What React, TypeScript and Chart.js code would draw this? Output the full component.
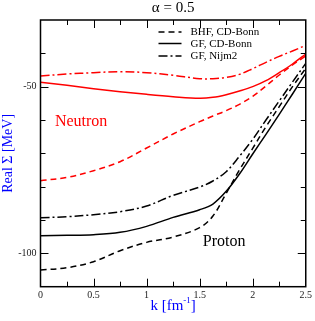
import { useEffect, useRef } from "react";
import { Chart, registerables } from "chart.js";

Chart.register(...registerables);

const K = [0, 0.25, 0.5, 0.75, 1.0, 1.25, 1.5, 1.625, 1.75, 1.875, 2.0, 2.125, 2.25, 2.375, 2.5];

const neutronBHF = [-78.2, -77.2, -75.2, -72.5, -68.4, -64.2, -60.5, -58.8, -57.2, -55.3, -52.9, -49.8, -46.5, -43.5, -40.8];
const neutronGFCDBonn = [-48.7, -49.6, -50.6, -51.5, -52.3, -53.0, -53.5, -53.2, -52.4, -51.3, -50.0, -48.2, -45.8, -43.2, -40.2];
const neutronGFNijm2 = [-46.8, -46.2, -45.8, -45.5, -45.8, -46.6, -47.6, -47.6, -47.2, -46.3, -44.6, -42.7, -40.9, -39.3, -37.6];

const protonBHF = [-105, -104.3, -102.5, -99.2, -96.7, -95.1, -92.3, -88.8, -82, -75, -68.5, -62, -56, -50, -44.5];
const protonGFCDBonn = [-94.7, -94.6, -94.4, -93.7, -91.9, -89.2, -86.9, -85.2, -81.4, -76.2, -70.2, -64.3, -58.3, -52.2, -46];
const protonGFNijm2 = [-89.3, -89, -88.4, -87.5, -85.8, -82.6, -80.1, -78.3, -75.5, -70.9, -65.8, -60, -54.3, -48.6, -43];

const legendLabels = ["BHF, CD-Bonn", "GF, CD-Bonn", "GF, Nijm2"];
const xTickValues = [0, 0.5, 1, 1.5, 2, 2.5];
const xTickLabels = ["0", "0.5", "1", "1.5", "2", "2.5"];
const yTickValues = [-50, -100];
const yTickLabels = ["-50", "-100"];

const DASHED = [6, 4];
const SOLID: number[] = [];
const DASHDOT = [9, 3, 2, 3];
const SERIF = "'Liberation Serif', 'DejaVu Serif', serif";

export default function App() {
  const ref = useRef<HTMLCanvasElement>(null);

  useEffect(() => {
    const canvas = ref.current!;
    const mk = (label: string, vals: number[], color: string, dash: number[]) => ({
      label,
      data: K.map((k, i) => ({ x: k, y: vals[i] })),
      borderColor: color,
      backgroundColor: color,
      borderWidth: 1.5,
      borderDash: dash,
      pointRadius: 0,
      fill: false,
      tension: 0.35,
    });

    const framePlugin = {
      id: "frame",
      afterDraw(chart: any) {
        const ctx = chart.ctx as CanvasRenderingContext2D;
        const a = chart.chartArea;
        const xs = chart.scales.x;
        const ys = chart.scales.y;
        ctx.save();
        ctx.setLineDash([]);
        ctx.strokeStyle = "#000";
        ctx.lineWidth = 1.5;
        ctx.strokeRect(a.left, a.top, a.right - a.left, a.bottom - a.top);
        ctx.lineWidth = 1;
        for (let i = 1; i < 10; i++) {
          const v = i * 0.25;
          const px = Math.round(xs.getPixelForValue(v)) + 0.5;
          const len = i % 2 === 0 ? 8 : 5;
          ctx.beginPath();
          ctx.moveTo(px, a.bottom);
          ctx.lineTo(px, a.bottom - len);
          ctx.moveTo(px, a.top);
          ctx.lineTo(px, a.top + len);
          ctx.stroke();
        }
        for (let v = -100; v <= -40; v += 10) {
          const py = Math.round(ys.getPixelForValue(v)) + 0.5;
          const len = v % 50 === 0 ? 8 : 5;
          ctx.beginPath();
          ctx.moveTo(a.left, py);
          ctx.lineTo(a.left + len, py);
          ctx.moveTo(a.right, py);
          ctx.lineTo(a.right - len, py);
          ctx.stroke();
        }

        const cx = (a.left + a.right) / 2;
        const cy = (a.top + a.bottom) / 2;

        ctx.fillStyle = "#000";
        ctx.font = `15px ${SERIF}`;
        ctx.textAlign = "center";
        ctx.textBaseline = "alphabetic";
        ctx.fillText("\u03b1 = 0.5", cx, 12);

        const styles = [DASHED, SOLID, DASHDOT];
        const rows = [a.top + 12, a.top + 23.5, a.top + 36];
        ctx.font = `11px ${SERIF}`;
        ctx.textAlign = "left";
        ctx.textBaseline = "middle";
        for (let i = 0; i < 3; i++) {
          ctx.beginPath();
          ctx.setLineDash(styles[i]);
          ctx.lineWidth = 1.5;
          ctx.moveTo(a.left + 118, rows[i]);
          ctx.lineTo(a.left + 141, rows[i]);
          ctx.stroke();
          ctx.setLineDash([]);
          ctx.fillText(legendLabels[i], a.left + 150, rows[i] + 0.5);
        }

        ctx.textBaseline = "alphabetic";
        ctx.font = `16px ${SERIF}`;
        ctx.fillStyle = "#ff0000";
        ctx.fillText("Neutron", xs.getPixelForValue(0.136), ys.getPixelForValue(-61.9));
        ctx.fillStyle = "#000";
        ctx.fillText("Proton", xs.getPixelForValue(1.53), ys.getPixelForValue(-97.8));

        ctx.fillStyle = "#0000ff";
        const main = "k [fm";
        const sup = "-1";
        const end = "]";
        ctx.font = `15px ${SERIF}`;
        const w1 = ctx.measureText(main).width;
        const w3 = ctx.measureText(end).width;
        ctx.font = `9px ${SERIF}`;
        const w2 = ctx.measureText(sup).width;
        let x0 = cx - (w1 + w2 + w3) / 2;
        const by = 310;
        ctx.font = `15px ${SERIF}`;
        ctx.fillText(main, x0, by);
        x0 += w1;
        ctx.font = `9px ${SERIF}`;
        ctx.fillText(sup, x0, by - 7);
        x0 += w2;
        ctx.font = `15px ${SERIF}`;
        ctx.fillText(end, x0, by);

        ctx.save();
        ctx.translate(8, cy);
        ctx.rotate(-Math.PI / 2);
        ctx.font = `14px ${SERIF}`;
        ctx.textAlign = "center";
        ctx.textBaseline = "middle";
        ctx.fillText("Real \u03a3 [MeV]", 0, 0);
        ctx.restore();

        ctx.restore();
      },
    };

    const chart = new Chart(canvas, {
      type: "line",
      data: {
        datasets: [
          mk("Neutron BHF, CD-Bonn", neutronBHF, "#ff0000", DASHED),
          mk("Neutron GF, CD-Bonn", neutronGFCDBonn, "#ff0000", SOLID),
          mk("Neutron GF, Nijm2", neutronGFNijm2, "#ff0000", DASHDOT),
          mk("Proton BHF, CD-Bonn", protonBHF, "#000000", DASHED),
          mk("Proton GF, CD-Bonn", protonGFCDBonn, "#000000", SOLID),
          mk("Proton GF, Nijm2", protonGFNijm2, "#000000", DASHDOT),
        ] as any,
      },
      options: {
        animation: false,
        responsive: false,
        maintainAspectRatio: false,
        layout: { padding: { top: 20, right: 8, left: 0, bottom: 0 } },
        plugins: {
          legend: { display: false },
          tooltip: { enabled: false },
          title: { display: false },
        },
        scales: {
          x: {
            type: "linear",
            min: 0,
            max: 2.5,
            grid: { display: false, drawTicks: false },
            border: { display: false },
            ticks: {
              stepSize: 0.25,
              autoSkip: false,
              maxRotation: 0,
              padding: 3,
              color: "#222",
              font: { family: SERIF, size: 10 },
              callback: (v: any) => {
                const idx = xTickValues.findIndex((t) => Math.abs(t - Number(v)) < 1e-6);
                return idx >= 0 ? xTickLabels[idx] : "";
              },
            },
            afterFit: (s: any) => {
              s.height = 34.3;
            },
          },
          y: {
            type: "linear",
            min: -110,
            max: -30,
            grid: { display: false, drawTicks: false },
            border: { display: false },
            ticks: {
              stepSize: 10,
              autoSkip: false,
              padding: 4,
              color: "#222",
              font: { family: SERIF, size: 10 },
              callback: (v: any) => {
                const idx = yTickValues.findIndex((t) => Math.abs(t - Number(v)) < 1e-6);
                return idx >= 0 ? yTickLabels[idx] : "";
              },
            },
            afterFit: (s: any) => {
              s.width = 40.5;
            },
          },
        },
      } as any,
      plugins: [framePlugin],
    });

    return () => chart.destroy();
  }, []);

  return (
    <div style={{ position: "fixed", left: 0, top: 0, width: 315, height: 321 }}>
      <canvas ref={ref} width={315} height={321} style={{ display: "block" }} />
    </div>
  );
}
